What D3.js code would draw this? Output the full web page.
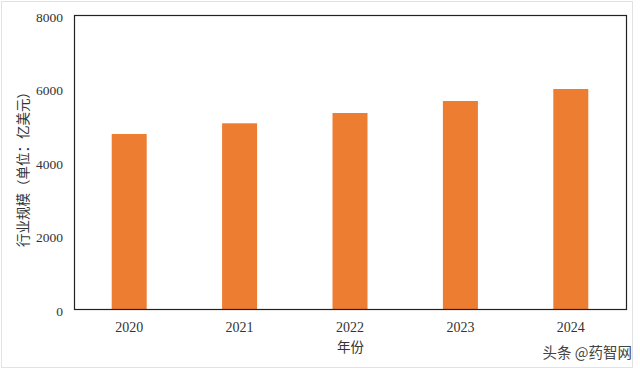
<!DOCTYPE html>
<html>
<head>
<meta charset="utf-8">
<script src="https://cdn.jsdelivr.net/npm/d3@7"></script>
<style>
  body { margin: 0; background: #fff; }
  svg { display: block; }
</style>
</head>
<body>
<svg id="chart" width="640" height="372"></svg>
<script>
// chart data
const years = ['2020', '2021', '2022', '2023', '2024']
const scale = [4762, 5053, 5333, 5660, 5986]
const yTicks = [0, 2000, 4000, 6000, 8000]

const svg = d3.select('#chart')
const margin = { top: 15, right: 14, bottom: 63, left: 74 }
const width = 640 - margin.left - margin.right
const height = 372 - margin.top - margin.bottom

const serif = '"Liberation Serif", "DejaVu Serif", serif'
const cjk = '"Noto Sans CJK SC", sans-serif'

// light outer border of the picture
svg
  .append('rect')
  .attr('x', 1.5)
  .attr('y', 1.5)
  .attr('width', 631)
  .attr('height', 366)
  .attr('fill', 'none')
  .attr('stroke', '#e2e2e2')

const g = svg.append('g').attr('transform', `translate(${margin.left},${margin.top})`)

const x = d3.scaleBand().domain(years).range([0, width]).paddingInner(0.683).paddingOuter(0.3415)
const y = d3.scaleLinear().domain([0, 8000]).range([height, 0])

// bars
g.selectAll('.bar')
  .data(years)
  .enter()
  .append('rect')
  .attr('class', 'bar')
  .attr('x', (d) => {
    return x(d)
  })
  .attr('y', (d, i) => {
    return y(scale[i])
  })
  .attr('width', x.bandwidth())
  .attr('height', (d, i) => {
    return y(0) - y(scale[i])
  })
  .attr('fill', '#ED7D31')

// frame
g.append('rect')
  .attr('x', 0.5)
  .attr('y', 0.5)
  .attr('width', width)
  .attr('height', height)
  .attr('fill', 'none')
  .attr('stroke', '#222')
  .attr('stroke-width', 1.2)

// y axis
const yAxis = d3.axisLeft(y).tickValues(yTicks).tickFormat(d3.format('d')).tickSize(0).tickPadding(11)
const yg = g.append('g').attr('class', 'y-axis').call(yAxis)
yg.select('.domain').remove()
yg.selectAll('text').attr('font-family', serif).attr('font-size', 13.5).attr('fill', '#333').attr('dy', '0.45em')

// x axis
const xAxis = d3.axisBottom(x).tickSize(0).tickPadding(13)
const xg = g.append('g').attr('class', 'x-axis').attr('transform', `translate(0,${height})`).call(xAxis)
xg.select('.domain').remove()
xg.selectAll('text').attr('font-family', serif).attr('font-size', 14).attr('fill', '#333')

// axis titles
svg
  .append('text')
  .attr('x', margin.left + width / 2 + 0.5)
  .attr('y', 352)
  .attr('text-anchor', 'middle')
  .attr('font-family', cjk)
  .attr('font-size', 13.5)
  .attr('fill', '#333')
  .text('年份')

svg
  .append('text')
  .attr('transform', 'translate(28,166) rotate(-90)')
  .attr('text-anchor', 'middle')
  .attr('font-family', cjk)
  .attr('font-size', 13.5)
  .attr('fill', '#333')
  .text('行业规模（单位：亿美元）')

// watermark
svg
  .append('text')
  .attr('x', 632)
  .attr('y', 358)
  .attr('text-anchor', 'end')
  .attr('font-family', cjk)
  .attr('font-size', 14.5)
  .attr('fill', '#444')
  .text('头条 @药智网')
</script>
</body>
</html>
